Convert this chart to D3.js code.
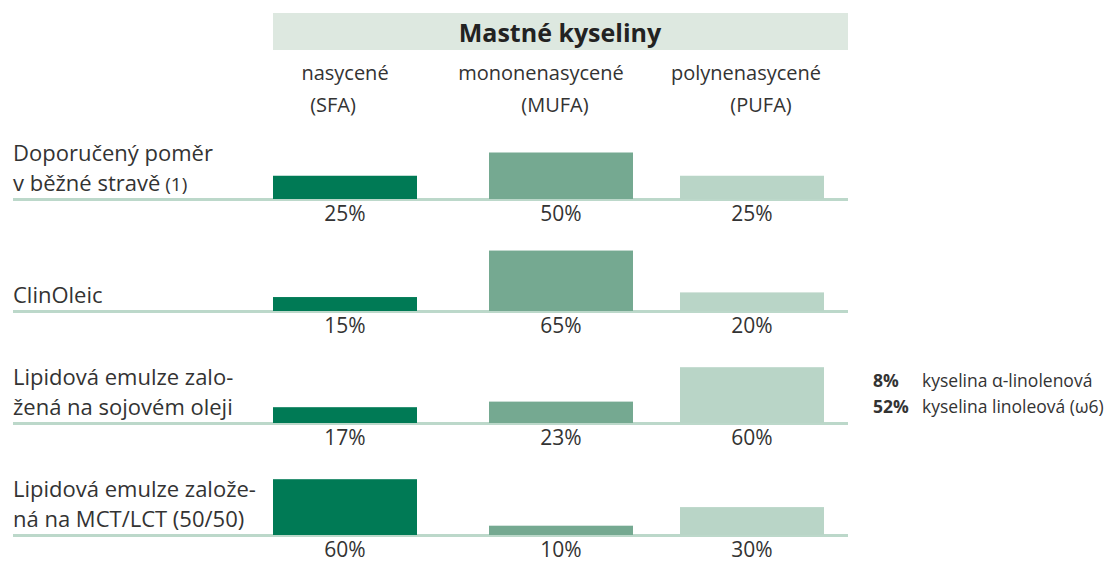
<!DOCTYPE html>
<html>
<head>
<meta charset="utf-8">
<script src="https://cdn.jsdelivr.net/npm/d3@7"></script>
<style>
  body { margin: 0; background: #fff; }
  text { font-family: "Open Sans", "Noto Sans", sans-serif; fill: #333; }
</style>
</head>
<body>
<svg id="chart" width="1119" height="565"></svg>
<script>
// categories (columns) and rows
var kategorie = ["SFA", "MUFA", "PUFA"];
var hlavicka1 = ["nasycené", "mononenasycené", "polynenasycené"];
var hlavicka2 = ["(SFA)", "(MUFA)", "(PUFA)"];
var radky = ["doporuceny", "clinoleic", "sojovy", "mctlct"];
var popisky = [
    ["Doporučený poměr", "v běžné stravě"],
    ["ClinOleic"],
    ["Lipidová emulze zalo-", "žená na sojovém oleji"],
    ["Lipidová emulze založe-", "ná na MCT/LCT (50/50)"]
];
// values in %
var hodnoty = [
    [25, 50, 25],
    [15, 65, 20],
    [17, 23, 60],
    [60, 10, 30]
];
var poznamkaHodnoty = ["8%", "52%"];
var poznamkaTexty = ["kyselina α-linolenová", "kyselina linoleová (ω6)"];

var barvy = ["#007a55", "#75a991", "#b9d5c7"];

var svg = d3.select("#chart");

var xScale = d3.scaleOrdinal().domain(kategorie).range([273, 489, 680]);
var bw = 144;
var rowScale = d3.scalePoint().domain(radky).range([199, 535]);
var hScale = d3.scaleLinear().domain([0, 100]).range([0, 93]);

/* pás s nadpisem */
svg.append("rect")
    .attr("x", 273).attr("y", 13)
    .attr("width", 575).attr("height", 37)
    .attr("fill", "#dde8e0");
svg.append("text")
    .attr("x", 560).attr("y", 42)
    .attr("text-anchor", "middle")
    .attr("font-size", 25).attr("font-weight", "bold")
    .style("fill", "#222")
    .text("Mastné kyseliny");

/* hlavičky sloupců */
var h1x = [345, 541, 746], h2x = [333, 555, 761];
svg.selectAll(".h1").data(hlavicka1).enter().append("text")
    .attr("class", "h1")
    .attr("x", function (d, i) { return h1x[i]; })
    .attr("y", 80)
    .attr("text-anchor", "middle").attr("font-size", 20)
    .text(function (d) { return d; });
svg.selectAll(".h2").data(hlavicka2).enter().append("text")
    .attr("class", "h2")
    .attr("x", function (d, i) { return h2x[i]; })
    .attr("y", 112)
    .attr("text-anchor", "middle").attr("font-size", 20)
    .text(function (d) { return d; });

/* řádky */
radky.forEach(function (r, ri) {
    var base = rowScale(r);
    var g = svg.append("g");

    // čára
    g.append("rect")
        .attr("x", 13).attr("y", base - 1)
        .attr("width", 835).attr("height", 3)
        .attr("fill", "#bcd8ca");

    // popisek
    var lines = popisky[ri];
    var t = g.append("text").attr("font-size", 22);
    lines.forEach(function (l, li) {
        t.append("tspan")
            .attr("x", 13)
            .attr("y", base - 8 - (lines.length - 1 - li) * 30)
            .text(l);
    });
    if (ri === 0) {
        t.append("tspan").attr("font-size", 19).text(" (1)");
    }

    // sloupce
    g.selectAll(".bar").data(hodnoty[ri]).enter().append("rect")
        .attr("class", "bar")
        .attr("x", function (d, i) { return xScale(kategorie[i]); })
        .attr("y", function (d) { return base - hScale(d); })
        .attr("width", bw)
        .attr("height", function (d) { return hScale(d); })
        .attr("fill", function (d, i) { return barvy[i]; });

    // procenta
    g.selectAll(".pct").data(hodnoty[ri]).enter().append("text")
        .attr("class", "pct")
        .attr("x", function (d, i) { return xScale(kategorie[i]) + bw / 2; })
        .attr("y", base + 22)
        .attr("text-anchor", "middle").attr("font-size", 21)
        .text(function (d) { return d + "%"; });
});

/* poznámka u sojového oleje */
poznamkaHodnoty.forEach(function (v, i) {
    svg.append("text")
        .attr("x", 873).attr("y", 387 + i * 26)
        .attr("font-size", 17.5).attr("font-weight", "bold")
        .text(v);
    svg.append("text")
        .attr("x", 922).attr("y", 387 + i * 26)
        .attr("font-size", 17.5)
        .text(poznamkaTexty[i]);
});
</script>
</body>
</html>
